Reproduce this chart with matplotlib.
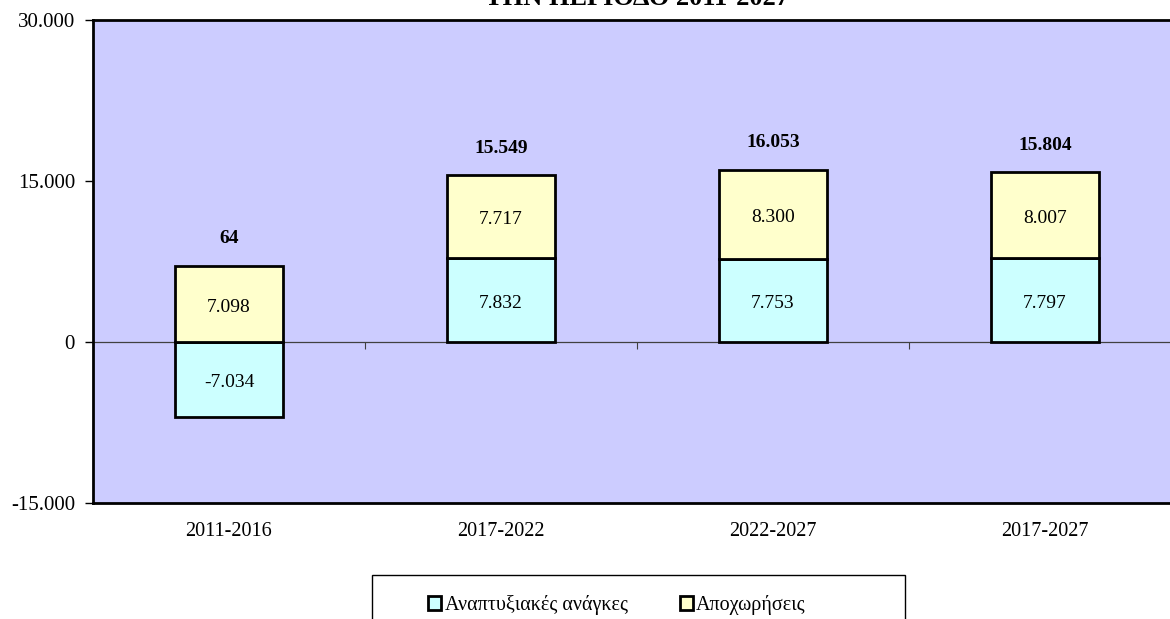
import matplotlib
matplotlib.use("Agg")
import matplotlib.pyplot as plt
from matplotlib.patches import Rectangle
import numpy as np

categories = ["2011-2016", "2017-2022", "2022-2027", "2017-2027"]
anaptyxiakes = [-7034, 7832, 7753, 7797]
apoxoriseis = [7098, 7717, 8300, 8007]
totals = [64, 15549, 16053, 15804]
series_names = ["Αναπτυξιακές ανάγκες", "Αποχωρήσεις"]
yticks = [-15000, 0, 15000, 30000]
ytick_labels = ["-15.000", "0", "15.000", "30.000"]
title = "ΤΗΝ ΠΕΡΙΟΔΟ 2011-2027"

def fmt(v):
    s = f"{abs(v):,}".replace(",", ".")
    return ("-" if v < 0 else "") + s

plt.rcParams['font.family'] = ['Liberation Serif', 'DejaVu Serif']

fig = plt.figure(figsize=(11.7, 6.19), dpi=100)
ax = fig.add_axes([93/1170, 116/619, 1088/1170, 483/619])
ax.set_facecolor('#CCCCFF')

x = np.arange(len(categories))
w = 0.4
ax.bar(x, anaptyxiakes, w, color='#CCFFFF', edgecolor='black', linewidth=2, label=series_names[0], zorder=3)
bottoms = [max(a, 0) for a in anaptyxiakes]
ax.bar(x, apoxoriseis, w, bottom=bottoms, color='#FFFFCC', edgecolor='black', linewidth=2, label=series_names[1], zorder=3)

for i in range(len(categories)):
    a = anaptyxiakes[i]
    ax.text(x[i], a / 2 - 300, fmt(a), ha='center', va='center', fontsize=14, zorder=4)
    ax.text(x[i], bottoms[i] + apoxoriseis[i] / 2 - 300, fmt(apoxoriseis[i]), ha='center', va='center', fontsize=14, zorder=4)
    top = bottoms[i] + apoxoriseis[i]
    ax.text(x[i], top + 2500, fmt(totals[i]), ha='center', va='center', fontsize=14, fontweight='bold', zorder=4)

ax.axhline(0, color='#404040', linewidth=0.9, zorder=2)
ax.set_xlim(-0.5, len(categories) - 0.5)
ax.set_ylim(-15000, 30000)
ax.set_yticks(yticks)
ax.set_yticklabels(ytick_labels, fontsize=15)
ax.set_xticks(x)
ax.set_xticklabels(categories, fontsize=14.5)
ax.tick_params(axis='x', length=0, pad=14)
ax.tick_params(axis='y', length=6, width=1, direction='out', pad=7)
for s in ['left', 'bottom', 'top']:
    ax.spines[s].set_linewidth(2)
ax.spines['right'].set_visible(False)

sec = ax.secondary_xaxis(1/3)
sec.set_xticks(np.arange(len(categories) - 1) + 0.5)
sec.set_xticklabels([])
sec.tick_params(length=5, width=0.8, direction='out', color='#404040')
sec.spines['bottom'].set_visible(False)
sec.spines['top'].set_visible(False)

fig.text(637/1170, 1 - 5/619, title, ha='center', va='baseline', fontsize=19, fontweight='bold')

# legend box
fig.patches.append(Rectangle((372/1170, -0.05), 533/1170, 44/619 + 0.05, transform=fig.transFigure,
                             facecolor='white', edgecolor='black', linewidth=1, zorder=0))
leg = fig.legend(loc='center', bbox_to_anchor=(617/1170, 1 - 605/619),
                 ncol=2, fontsize=14.5, frameon=False,
                 handlelength=0.65, handleheight=0.65, handletextpad=0.15,
                 columnspacing=2.6, borderaxespad=0, borderpad=0)
for h in leg.legend_handles:
    h.set_linewidth(2)

fig.savefig("out.png", dpi=100)
